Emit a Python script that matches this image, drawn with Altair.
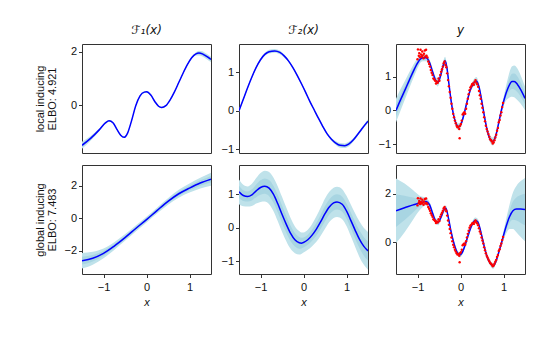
import altair as alt
import pandas as pd

FONT = "Liberation Sans"
OUTER = "#bfe2ea"
INNER = "#a8d5e2"
LINE = "#0000ff"

col_titles = ["ℱ₁(x)", "ℱ₂(x)", "y"]
row_titles = [["local inducing", "ELBO: 4.921"], ["global inducing", "ELBO: 7.483"]]
x_ticks = [-1, 0, 1]

# ---- row 1 (local inducing) ----
x_l1 = [-1.5, -1.3, -1.1, -0.95, -0.87, -0.78, -0.68, -0.6, -0.52, -0.44, -0.35, -0.25, -0.15, -0.05, 0.0,
        0.1, 0.2, 0.28, 0.35, 0.45, 0.55, 0.65, 0.75, 0.85, 0.95, 1.05, 1.15, 1.22, 1.3, 1.4, 1.5]
m_l1 = [-1.51, -1.25, -0.93, -0.66, -0.59, -0.66, -0.93, -1.13, -1.21, -1.05, -0.6, -0.02, 0.35, 0.49, 0.50,
        0.38, 0.12, -0.04, -0.09, -0.02, 0.2, 0.5, 0.85, 1.2, 1.52, 1.78, 1.93, 1.96, 1.93, 1.83, 1.72]
hw_l1 = [0.13, 0.09, 0.05, 0.04, 0.03, 0.03, 0.03, 0.03, 0.03, 0.03, 0.03, 0.03, 0.03, 0.03, 0.03,
         0.03, 0.03, 0.03, 0.03, 0.03, 0.03, 0.03, 0.03, 0.03, 0.03, 0.04, 0.06, 0.09, 0.1, 0.1, 0.1]

x_l2 = [-1.5, -1.4, -1.3, -1.2, -1.1, -1.0, -0.9, -0.8, -0.67, -0.55, -0.45, -0.35, -0.25, -0.15, -0.05,
        0.05, 0.15, 0.25, 0.35, 0.45, 0.55, 0.65, 0.75, 0.85, 0.96, 1.05, 1.15, 1.25, 1.35, 1.5]
m_l2 = [0.0, 0.3, 0.6, 0.88, 1.13, 1.33, 1.47, 1.54, 1.56, 1.52, 1.43, 1.3, 1.13, 0.93, 0.71,
        0.48, 0.24, 0.02, -0.2, -0.41, -0.6, -0.74, -0.84, -0.9, -0.91, -0.87, -0.77, -0.63, -0.48, -0.27]
hw_l2 = [0.04, 0.03, 0.03, 0.03, 0.03, 0.03, 0.04, 0.05, 0.05, 0.05, 0.04, 0.03, 0.03, 0.03, 0.03,
         0.03, 0.03, 0.03, 0.03, 0.03, 0.03, 0.04, 0.05, 0.06, 0.06, 0.06, 0.05, 0.04, 0.04, 0.05]

x_l3 = [-1.5, -1.4, -1.3, -1.2, -1.1, -1.0, -0.95, -0.88, -0.8, -0.72, -0.65, -0.58, -0.53, -0.47, -0.41,
        -0.36, -0.32, -0.27, -0.22, -0.17, -0.12, -0.07, -0.03, 0.02, 0.08, 0.15, 0.22, 0.3, 0.37, 0.43,
        0.5, 0.56, 0.62, 0.68, 0.75, 0.82, 0.88, 0.95, 1.02, 1.1, 1.2, 1.25, 1.32, 1.4, 1.5]
m_l3 = [0.0, 0.3, 0.58, 0.87, 1.15, 1.4, 1.5, 1.56, 1.56, 1.42, 1.15, 0.9, 0.83, 1.0, 1.3,
        1.47, 1.3, 0.8, 0.3, -0.08, -0.33, -0.46, -0.48, -0.38, -0.12, 0.25, 0.58, 0.8, 0.87, 0.7,
        0.25, -0.2, -0.58, -0.83, -0.92, -0.75, -0.42, 0.0, 0.35, 0.65, 0.86, 0.86, 0.78, 0.62, 0.36]
hw_l3 = [0.35, 0.32, 0.28, 0.24, 0.2, 0.15, 0.12, 0.1, 0.1, 0.1, 0.1, 0.1, 0.12, 0.1, 0.1,
         0.12, 0.1, 0.08, 0.08, 0.08, 0.08, 0.1, 0.1, 0.08, 0.08, 0.08, 0.08, 0.1, 0.12, 0.1,
         0.08, 0.08, 0.08, 0.1, 0.12, 0.1, 0.08, 0.1, 0.15, 0.3, 0.45, 0.47, 0.47, 0.42, 0.35]

# ---- row 2 (global inducing) ----
x_g1 = [-1.5, -1.25, -1.0, -0.75, -0.5, -0.25, 0.0, 0.25, 0.5, 0.75, 1.0, 1.25, 1.5]
m_g1 = [-2.6, -2.45, -2.15, -1.7, -1.18, -0.62, -0.07, 0.5, 1.05, 1.52, 1.87, 2.18, 2.42]
hw_g1 = [0.48, 0.4, 0.3, 0.24, 0.2, 0.18, 0.18, 0.18, 0.2, 0.24, 0.28, 0.33, 0.4]

x_g2 = [-1.5, -1.4, -1.3, -1.2, -1.1, -1.0, -0.9, -0.8, -0.7, -0.6, -0.5, -0.4, -0.3, -0.2, -0.1, -0.05,
        0.0, 0.1, 0.2, 0.3, 0.4, 0.5, 0.6, 0.7, 0.78, 0.9, 1.0, 1.1, 1.2, 1.3, 1.4, 1.5]
m_g2 = [1.07, 0.96, 0.93, 0.98, 1.1, 1.2, 1.24, 1.18, 1.0, 0.72, 0.4, 0.1, -0.17, -0.36, -0.45, -0.46,
        -0.44, -0.36, -0.22, -0.04, 0.18, 0.42, 0.62, 0.74, 0.77, 0.7, 0.5, 0.22, -0.07, -0.34, -0.55, -0.69]
hw_g2 = [0.37, 0.32, 0.3, 0.33, 0.38, 0.43, 0.46, 0.48, 0.5, 0.52, 0.52, 0.5, 0.46, 0.4, 0.35, 0.32,
         0.3, 0.3, 0.33, 0.38, 0.42, 0.45, 0.45, 0.45, 0.45, 0.45, 0.45, 0.47, 0.5, 0.53, 0.55, 0.56]

x_g3 = [-1.5, -1.3, -1.1, -0.95, -0.8, -0.72, -0.64, -0.57, -0.52, -0.45, -0.38, -0.34, -0.28, -0.22, -0.15,
        -0.08, -0.02, 0.04, 0.1, 0.18, 0.26, 0.34, 0.4, 0.47, 0.55, 0.62, 0.7, 0.76, 0.83, 0.9,
        0.98, 1.06, 1.14, 1.22, 1.3, 1.4, 1.5]
m_g3 = [1.30, 1.42, 1.54, 1.62, 1.68, 1.55, 1.15, 0.86, 0.82, 1.05, 1.35, 1.40, 1.0, 0.45, -0.05,
        -0.4, -0.52, -0.42, -0.15, 0.3, 0.7, 0.9, 0.85, 0.45, -0.15, -0.6, -0.88, -0.97, -0.75, -0.35,
        0.15, 0.65, 1.05, 1.3, 1.37, 1.37, 1.35]
hw_g3 = [1.33, 1.0, 0.6, 0.3, 0.15, 0.12, 0.12, 0.12, 0.12, 0.1, 0.12, 0.12, 0.1, 0.1, 0.1,
         0.1, 0.1, 0.1, 0.1, 0.1, 0.1, 0.12, 0.12, 0.1, 0.1, 0.1, 0.1, 0.12, 0.1, 0.1,
         0.15, 0.3, 0.5, 0.75, 0.95, 1.15, 1.3]

# observations (red points)
obs_x = [-1.00, -0.99, -0.97, -0.96, -0.94, -0.93, -0.92, -0.90, -0.89, -0.88, -0.86, -0.85, -0.83, -0.82,
         -0.80, -0.79, -0.77, -0.75, -0.73, -0.71, -0.69, -0.67, -0.65, -0.63, -0.61, -0.59, -0.57, -0.55,
         -0.53, -0.51, -0.49, -0.47, -0.45, -0.43, -0.41, -0.39, -0.37, -0.35, -0.33, -0.31, -0.29, -0.27,
         -0.25, -0.23, -0.21, -0.19, -0.17, -0.15, -0.13, -0.11, -0.09, -0.07, -0.05, -0.03, -0.02, -0.01,
         0.01, 0.03, 0.05, 0.07, 0.09, 0.11, 0.13, 0.15, 0.17, 0.19, 0.21, 0.23, 0.25, 0.27, 0.29, 0.31,
         0.33, 0.35, 0.37, 0.39, 0.41, 0.43, 0.45, 0.47, 0.49, 0.51, 0.53, 0.55, 0.57, 0.59, 0.61, 0.63,
         0.65, 0.67, 0.69, 0.71, 0.73, 0.75, 0.77, 0.79, 0.81, 0.83, 0.85, 0.87, 0.89, 0.91, 0.93, 0.95,
         0.97, 0.99]
obs_y = [1.52, 1.81, 1.62, 1.70, 1.58, 1.80, 1.66, 1.60, 1.75, 1.63, 1.55, 1.68, 1.78, 1.60,
         1.80, 1.62, 1.57, 1.45, 1.38, 1.30, 1.20, 1.12, 1.05, 0.95, 0.92, 0.88, 0.80, 0.86,
         0.82, 0.95, 0.88, 1.05, 1.15, 1.22, 1.30, 1.40, 1.45, 1.35, 1.28, 1.10, 0.90, 0.72,
         0.55, 0.38, 0.20, 0.05, -0.10, -0.20, -0.30, -0.38, -0.45, -0.50, -0.48, -0.55, -0.82, -0.45,
         -0.40, -0.30, -0.12, -0.08, -0.05, -0.10, 0.05, 0.20, 0.35, 0.48, 0.60, 0.68, 0.72, 0.78, 0.80, 0.76,
         0.85, 0.90, 0.82, 0.78, 0.70, 0.58, 0.45, 0.35, 0.20, 0.08, -0.05, -0.20, -0.32, -0.45, -0.55, -0.62,
         -0.70, -0.78, -0.85, -0.88, -0.92, -0.98, -0.95, -0.88, -0.80, -0.72, -0.60, -0.52, -0.35, -0.28, -0.15, -0.05,
         0.10, 0.22]

panels = [
    dict(x=x_l1, m=m_l1, hw=hw_l1, ydom=[-1.8, 2.3], yticks=[0, 2]),
    dict(x=x_l2, m=m_l2, hw=hw_l2, ydom=[-1.1, 1.74], yticks=[-1, 0, 1]),
    dict(x=x_l3, m=m_l3, hw=hw_l3, ydom=[-1.26, 1.97], yticks=[-1, 0, 1]),
    dict(x=x_g1, m=m_g1, hw=hw_g1, ydom=[-3.42, 3.29], yticks=[-2, 0, 2]),
    dict(x=x_g2, m=m_g2, hw=hw_g2, ydom=[-1.38, 1.87], yticks=[-1, 0, 1]),
    dict(x=x_g3, m=m_g3, hw=hw_g3, ydom=[-1.3, 3.18], yticks=[0, 2]),
]

obs_df = pd.DataFrame({"x": obs_x, "y": obs_y})

W, H = 129, 109


def make_panel(i, p):
    row, col = divmod(i, 3)
    df = pd.DataFrame({"x": p["x"], "m": p["m"], "hw": p["hw"]})
    df["lo2"] = df["m"] - df["hw"]
    df["hi2"] = df["m"] + df["hw"]
    df["lo1"] = df["m"] - 0.5 * df["hw"]
    df["hi1"] = df["m"] + 0.5 * df["hw"]

    xscale = alt.Scale(domain=[-1.5, 1.5], nice=False, zero=False)
    yscale = alt.Scale(domain=p["ydom"], nice=False, zero=False)
    if row == 0:
        xaxis = None
    else:
        xaxis = alt.Axis(values=x_ticks, title="x", titleFontStyle="italic",
                         labelPadding=4, titlePadding=4, format="d")
    if col == 0:
        yaxis = alt.Axis(values=p["yticks"], title=row_titles[row], format="d",
                         minExtent=20, maxExtent=20, titlePadding=5, titleLineHeight=11.5)
    else:
        yaxis = alt.Axis(values=p["yticks"], title=None, format="d",
                         minExtent=18, maxExtent=18)

    base = alt.Chart(df)
    outer = base.mark_area(color=OUTER, interpolate="monotone", clip=True).encode(
        x=alt.X("x:Q", scale=xscale, axis=xaxis),
        y=alt.Y("lo2:Q", scale=yscale, axis=yaxis),
        y2="hi2:Q",
    )
    inner = base.mark_area(color=INNER, interpolate="monotone", clip=True).encode(
        x="x:Q", y="lo1:Q", y2="hi1:Q"
    )
    line = base.mark_line(color=LINE, strokeWidth=1.5, interpolate="monotone", clip=True).encode(
        x="x:Q", y="m:Q"
    )
    layers = [outer, inner, line]
    if col == 2:
        pts = alt.Chart(obs_df).mark_circle(color="red", size=6, opacity=1).encode(
            x="x:Q", y="y:Q"
        )
        layers.append(pts)
    ch = alt.layer(*layers).properties(width=W, height=H)
    if row == 0:
        ch = ch.properties(title=alt.TitleParams(
            text=col_titles[col], font="DejaVu Sans", fontSize=12, fontStyle="italic",
            fontWeight="normal", offset=7, anchor="middle", color="#111"))
    return ch


charts = [make_panel(i, p) for i, p in enumerate(panels)]

chart = alt.concat(*charts, columns=3, spacing={"row": 9, "column": 8}).properties(
    padding={"left": 26, "top": 15, "right": 5, "bottom": 5}
).configure_axis(
    labelFont=FONT, labelFontSize=11, labelColor="#111",
    titleFont=FONT, titleFontSize=11, titleFontWeight="normal", titleColor="#111",
    tickColor="#333", tickSize=3.5, domain=False, grid=False, labelPadding=2,
).configure_view(stroke="#333", strokeWidth=1).configure_concat(spacing=8)

chart.save("out.html", embed_options={"renderer": "svg", "actions": False})
